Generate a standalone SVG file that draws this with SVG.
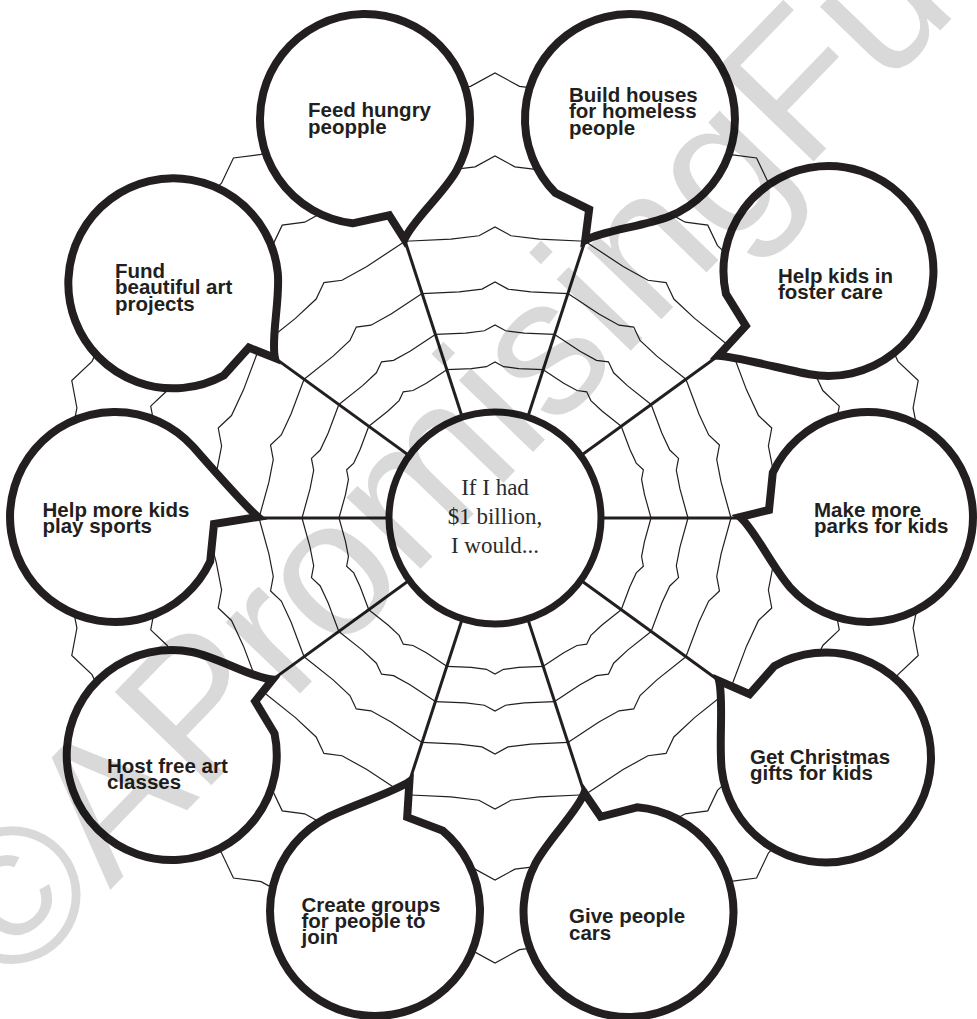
<svg xmlns="http://www.w3.org/2000/svg" xmlns:xlink="http://www.w3.org/1999/xlink" width="977" height="1019" viewBox="0 0 977 1019">
<style>
.bub{fill:#fff;stroke:#231f20;stroke-width:8;stroke-linejoin:miter;stroke-miterlimit:12}
.spoke{stroke:#231f20;stroke-width:3;fill:none}
.thread{fill:none;stroke:#231f20;stroke-width:1.2;stroke-linejoin:miter}
.lbl{font-family:"Liberation Sans",Arial,sans-serif;font-weight:bold;font-size:20.5px;fill:#231f20}
.ctr{font-family:"Liberation Serif","Times New Roman",serif;font-size:23px;fill:#2b2b2b}
.wm{font-family:"Liberation Sans",Arial,sans-serif;font-size:195px;fill:#000;fill-opacity:0.15}
</style>
<defs>
<g id="sector">
<polyline class="thread" points="148.37,-48.21 149.46,-23.67 151.32,-8.58 156,0 151.32,8.58 149.46,23.67 148.37,48.21"/>
<polyline class="thread" points="183.55,-59.64 184.9,-29.29 187.21,-10.62 193,0 187.21,10.62 184.9,29.29 183.55,59.64"/>
<polyline class="thread" points="224.45,-72.93 226.1,-35.81 228.92,-12.98 236,0 228.92,12.98 226.1,35.81 224.45,72.93"/>
<polyline class="thread" points="276.76,-89.92 278.8,-44.16 282.27,-16.01 291,0 282.27,16.01 278.8,44.16 276.76,89.92"/>
<polyline class="thread" points="344.28,-111.87 346.82,-54.93 351.14,-19.91 362,0 351.14,19.91 346.82,54.93 344.28,111.87"/>
<polyline class="thread" points="423.22,-137.51 426.34,-67.52 431.65,-24.48 445,0 431.65,24.48 426.34,67.52 423.22,137.51"/>
</g>
</defs>
<rect width="977" height="1019" fill="#fff"/>
<g id="web">
<use xlink:href="#sector" href="#sector" transform="translate(495 518) rotate(18)"/>
<use xlink:href="#sector" href="#sector" transform="translate(495 518) rotate(54)"/>
<use xlink:href="#sector" href="#sector" transform="translate(495 518) rotate(90)"/>
<use xlink:href="#sector" href="#sector" transform="translate(495 518) rotate(126)"/>
<use xlink:href="#sector" href="#sector" transform="translate(495 518) rotate(162)"/>
<use xlink:href="#sector" href="#sector" transform="translate(495 518) rotate(198)"/>
<use xlink:href="#sector" href="#sector" transform="translate(495 518) rotate(234)"/>
<use xlink:href="#sector" href="#sector" transform="translate(495 518) rotate(270)"/>
<use xlink:href="#sector" href="#sector" transform="translate(495 518) rotate(306)"/>
<use xlink:href="#sector" href="#sector" transform="translate(495 518) rotate(342)"/>
</g>
<g id="connectors">
<line class="spoke" x1="495" y1="518" x2="404.5" y2="239.3"/>
<line class="spoke" x1="495" y1="518" x2="585.2" y2="240.3"/>
<line class="spoke" x1="495" y1="518" x2="718.3" y2="355.8"/>
<line class="spoke" x1="495" y1="518" x2="740" y2="518"/>
<line class="spoke" x1="495" y1="518" x2="719.1" y2="680.8"/>
<line class="spoke" x1="495" y1="518" x2="584.3" y2="792.9"/>
<line class="spoke" x1="495" y1="518" x2="409.4" y2="781.5"/>
<line class="spoke" x1="495" y1="518" x2="272.5" y2="679.6"/>
<line class="spoke" x1="495" y1="518" x2="258" y2="518"/>
<line class="spoke" x1="495" y1="518" x2="275" y2="358.1"/>
</g>
<g id="center">
<circle cx="495" cy="518" r="106" fill="#fff" stroke="#231f20" stroke-width="7"/>
<text class="ctr" text-anchor="middle"><tspan x="495" y="495">If I had</tspan><tspan x="495" y="523.5">$1 billion,</tspan><tspan x="495" y="553">I would...</tspan></text>
</g>
<g id="b-feed">
<path class="bub" transform="translate(365 119) rotate(71.82)" d="M95.2 44.4 L99 7 L126.6 0 C111.6 -13 96 -50 78 -70.3 A105 105 0 1 0 95.2 44.4 Z"/>
<text class="lbl"><tspan x="308" y="117">Feed hungry</tspan><tspan x="308" y="133.5">peopple</tspan></text>
</g>
<g id="b-build">
<path class="bub" transform="translate(630 119) rotate(110.27)" d="M95.2 44.4 L99 7 L129.3 0 C114.3 -13 96 -50 78 -70.3 A105 105 0 1 0 95.2 44.4 Z"/>
<text class="lbl"><tspan x="569" y="101.5">Build houses</tspan><tspan x="569" y="118">for homeless</tspan><tspan x="569" y="134.5">people</tspan></text>
</g>
<g id="b-foster">
<path class="bub" transform="translate(828.5 271) rotate(142.42)" d="M95.2 44.4 L99 7 L139.1 0 C124.1 -13 96 -50 78 -70.3 A105 105 0 1 0 95.2 44.4 Z"/>
<text class="lbl"><tspan x="778" y="282.5">Help kids in</tspan><tspan x="778" y="298.5">foster care</tspan></text>
</g>
<g id="b-parks">
<path class="bub" transform="translate(868 517) rotate(180)" d="M95.2 44.4 L99 7 L128 0 C113 -13 96 -50 78 -70.3 A105 105 0 1 0 95.2 44.4 Z"/>
<text class="lbl"><tspan x="814" y="516.5">Make more</tspan><tspan x="814" y="533">parks for kids</tspan></text>
</g>
<g id="b-christmas">
<path class="bub" transform="translate(826 757.5) rotate(215.66)" d="M95.2 44.4 L99 7 L131.6 0 C116.6 -13 96 -50 78 -70.3 A105 105 0 1 0 95.2 44.4 Z"/>
<text class="lbl"><tspan x="750" y="764">Get Christmas</tspan><tspan x="750" y="780">gifts for kids</tspan></text>
</g>
<g id="b-cars">
<path class="bub" transform="translate(628.5 912) rotate(249.64)" d="M95.2 44.4 L99 7 L127 0 C112 -13 96 -50 78 -70.3 A105 105 0 1 0 95.2 44.4 Z"/>
<text class="lbl"><tspan x="569" y="923">Give people</tspan><tspan x="569" y="939.5">cars</tspan></text>
</g>
<g id="b-create">
<path class="bub" transform="translate(375 911) rotate(284.88)" d="M95.2 44.4 L99 7 L134 0 C119 -13 96 -50 78 -70.3 A105 105 0 1 0 95.2 44.4 Z"/>
<text class="lbl"><tspan x="301.5" y="911.5">Create groups</tspan><tspan x="301.5" y="928">for people to</tspan><tspan x="301.5" y="944">join</tspan></text>
</g>
<g id="b-host">
<path class="bub" transform="translate(171.7 755) rotate(323.2)" d="M95.2 44.4 L99 7 L125.9 0 C110.9 -13 96 -50 78 -70.3 A105 105 0 1 0 95.2 44.4 Z"/>
<text class="lbl"><tspan x="107" y="772.5">Host free art</tspan><tspan x="107" y="788.5">classes</tspan></text>
</g>
<g id="b-sports">
<path class="bub" transform="translate(115 517) rotate(0)" d="M95.2 44.4 L99 7 L143 0 C128 -13 96 -50 78 -70.3 A105 105 0 1 0 95.2 44.4 Z"/>
<text class="lbl"><tspan x="42.5" y="516.5">Help more kids</tspan><tspan x="42.5" y="533">play sports</tspan></text>
</g>
<g id="b-fund">
<path class="bub" transform="translate(173.3 283.3) rotate(36.33)" d="M95.2 44.4 L99 7 L126.2 0 C111.2 -13 96 -50 78 -70.3 A105 105 0 1 0 95.2 44.4 Z"/>
<text class="lbl"><tspan x="115" y="277.5">Fund</tspan><tspan x="115" y="294">beautiful art</tspan><tspan x="115" y="310.5">projects</tspan></text>
</g>
<g id="watermark">
<text class="wm" transform="translate(10.2 993.6) rotate(-46)">©APromisingFuture</text>
</g>
</svg>
